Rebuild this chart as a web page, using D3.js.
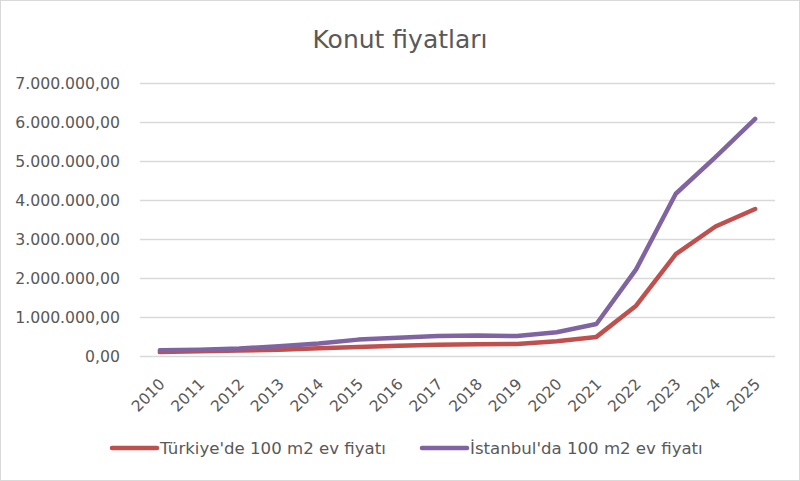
<!DOCTYPE html>
<html>
<head>
<meta charset="utf-8">
<script src="https://cdn.jsdelivr.net/npm/d3@7"></script>
<style>
  body { margin: 0; background: #fff; }
  svg { display: block; }
</style>
</head>
<body>
<div id="chart"></div>
<script>
const width = 800;
const height = 481;

// Data
const years = ['2010', '2011', '2012', '2013', '2014', '2015', '2016', '2017',
               '2018', '2019', '2020', '2021', '2022', '2023', '2024', '2025'];
const turkiye = [100000, 120000, 140000, 160000, 200000, 230000, 260000, 290000,
                 300000, 310000, 380000, 490000, 1290000, 2610000, 3320000, 3770000];
const istanbul = [150000, 160000, 190000, 250000, 320000, 420000, 470000, 510000,
                  525000, 510000, 610000, 820000, 2220000, 4160000, 5100000, 6080000];
const yTicks = [0, 1000000, 2000000, 3000000, 4000000, 5000000, 6000000, 7000000];
const seriesNames = ["Türkiye'de 100 m2 ev fiyatı", "İstanbul'da 100 m2 ev fiyatı"];
const seriesColors = ['#C0504D', '#8064A2'];

const textColor = '#595959';
const font = '"DejaVu Sans", sans-serif';

const margin = { top: 83, right: 25, bottom: 125, left: 140 };

const trLocale = d3.formatLocale({ decimal: ',', thousands: '.', grouping: [3], currency: ['', ''] });
const fmt = trLocale.format(',.2f');

const svg = d3.select('#chart').append('svg')
    .attr('width', width)
    .attr('height', height);

// Outer frame
svg.append('rect')
    .attr('x', 0.5).attr('y', 0.5)
    .attr('width', width - 1).attr('height', height - 1)
    .attr('fill', '#fff')
    .attr('stroke', '#d9d9d9');

const x = d3.scaleBand()
    .domain(years)
    .range([margin.left, width - margin.right]);

const y = d3.scaleLinear()
    .domain([0, 7000000])
    .range([height - margin.bottom, margin.top]);

// Title
svg.append('text')
    .attr('x', width / 2)
    .attr('y', 48)
    .attr('text-anchor', 'middle')
    .attr('font-family', font)
    .attr('font-size', '25px')
    .attr('fill', textColor)
    .text('Konut fiyatları');

// Gridlines + y labels
const yAxis = svg.append('g')
    .attr('transform', `translate(${margin.left},0)`)
    .call(d3.axisLeft(y).tickValues(yTicks).tickFormat(fmt)
        .tickSize(-(width - margin.left - margin.right)).tickPadding(20));

yAxis.select('.domain').remove();
yAxis.selectAll('.tick line').attr('stroke', '#d9d9d9').attr('stroke-width', 1.3);
yAxis.selectAll('.tick text')
    .attr('font-family', font)
    .attr('font-size', '15.7px')
    .attr('fill', textColor);

// X labels, rotated
const xAxis = svg.append('g')
    .attr('transform', `translate(0,${height - margin.bottom})`)
    .call(d3.axisBottom(x).tickSize(0));

xAxis.select('.domain').remove();
xAxis.selectAll('.tick text')
    .attr('font-family', font)
    .attr('font-size', '15.5px')
    .attr('fill', textColor)
    .attr('text-anchor', 'end')
    .attr('dy', '0.35em')
    .attr('transform', 'translate(0,23) rotate(-45)');

// Lines
const line = d3.line()
    .x((d, i) => x(years[i]) + x.bandwidth() / 2)
    .y(d => y(d));

[turkiye, istanbul].forEach((values, i) => {
    svg.append('path')
        .datum(values)
        .attr('fill', 'none')
        .attr('stroke', seriesColors[i])
        .attr('stroke-width', 4.5)
        .attr('stroke-linejoin', 'round')
        .attr('stroke-linecap', 'round')
        .attr('d', line);
});

// Legend
const legendX = [112, 422];
const legend = svg.selectAll('g.legend')
    .data(seriesNames)
    .enter()
    .append('g')
    .attr('class', 'legend')
    .attr('transform', (d, i) => `translate(${legendX[i]},448)`);

legend.append('line')
    .attr('x1', 0).attr('x2', 45)
    .attr('stroke', (d, i) => seriesColors[i])
    .attr('stroke-width', 4.5)
    .attr('stroke-linecap', 'round');

legend.append('text')
    .attr('x', 48)
    .attr('dy', '0.35em')
    .attr('font-family', font)
    .attr('font-size', '16.6px')
    .attr('fill', textColor)
    .text(d => d);
</script>
</body>
</html>
